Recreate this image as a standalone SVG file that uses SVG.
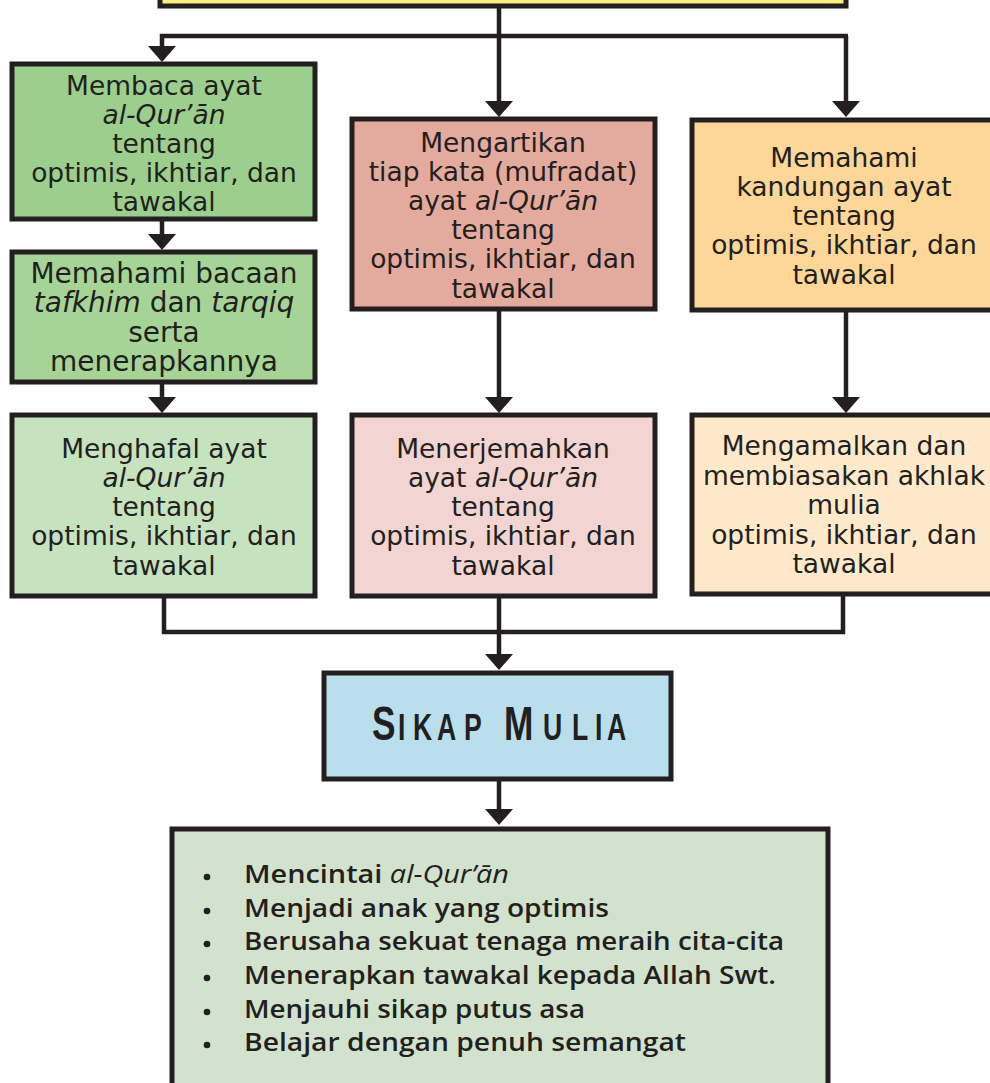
<svg xmlns="http://www.w3.org/2000/svg" width="990" height="1083" viewBox="0 0 990 1083">
  <style>
    .box { stroke: #231f20; stroke-width: 5; }
    .wire { fill: none; stroke: #231f20; stroke-width: 4.5; }
    .lbl { font-family: "DejaVu Sans", "Liberation Sans", sans-serif; font-size: 26.5px; fill: #231f20; text-anchor: middle; }
    .big { font-size: 28px; }
    .it { font-style: italic; }
    .list { font-family: "Open Sans", "Liberation Sans", sans-serif; font-weight: 600; font-size: 26px; fill: #231f20; }
    .title { font-family: "Liberation Sans", Arial, sans-serif; font-weight: bold; fill: #231f20; }
  </style>
  <defs>
    <marker id="arrow" viewBox="0 0 16 28" refX="6" refY="14" markerWidth="16" markerHeight="28" markerUnits="userSpaceOnUse" orient="auto">
      <path d="M0,0 L16,14 L0,28 Z" fill="#231f20"/>
    </marker>
  </defs>
  <rect width="990" height="1083" fill="#ffffff"/>

  <!-- connectors -->
  <g id="connectors">
    <path class="wire" d="M499,6 V107" marker-end="url(#arrow)"/>
    <path class="wire" d="M848,36 H162 V52" marker-end="url(#arrow)"/>
    <path class="wire" d="M846,36 V107" marker-end="url(#arrow)"/>
    <path class="wire" d="M162,220 V240" marker-end="url(#arrow)"/>
    <path class="wire" d="M162,382 V403" marker-end="url(#arrow)"/>
    <path class="wire" d="M499,309 V403" marker-end="url(#arrow)"/>
    <path class="wire" d="M846,310 V403" marker-end="url(#arrow)"/>
    <path class="wire" d="M164,594 V632 H843 V594"/>
    <path class="wire" d="M499,596 V660" marker-end="url(#arrow)"/>
    <path class="wire" d="M499,780 V815" marker-end="url(#arrow)"/>
  </g>

  <!-- top banner (cropped) -->
  <g id="top">
    <rect class="box" x="160" y="-20" width="686" height="26" fill="#fcef7a"/>
  </g>

  <g id="membaca">
    <rect class="box" x="12" y="64" width="303" height="155" fill="#9ccf8d"/>
    <text class="lbl" x="164" y="95">Membaca ayat</text>
    <text class="lbl it" x="164" y="124">al-Qur’ān</text>
    <text class="lbl" x="164" y="153">tentang</text>
    <text class="lbl" x="164" y="182">optimis, ikhtiar, dan</text>
    <text class="lbl" x="164" y="211">tawakal</text>
  </g>

  <g id="tafkhim">
    <rect class="box" x="12" y="252" width="303" height="130" fill="#a6d497"/>
    <text class="lbl big" x="164" y="283">Memahami bacaan</text>
    <text class="lbl big" x="164" y="312"><tspan class="it">tafkhim</tspan> dan <tspan class="it">tarqiq</tspan></text>
    <text class="lbl big" x="164" y="342">serta</text>
    <text class="lbl big" x="164" y="371">menerapkannya</text>
  </g>

  <g id="menghafal">
    <rect class="box" x="12" y="415" width="303" height="181" fill="#c6e3bf"/>
    <text class="lbl" x="164" y="458">Menghafal ayat</text>
    <text class="lbl it" x="164" y="487">al-Qur’ān</text>
    <text class="lbl" x="164" y="516">tentang</text>
    <text class="lbl" x="164" y="545">optimis, ikhtiar, dan</text>
    <text class="lbl" x="164" y="575">tawakal</text>
  </g>

  <g id="mengartikan">
    <rect class="box" x="352" y="119" width="303" height="190" fill="#e5aa9e"/>
    <text class="lbl" x="503" y="152">Mengartikan</text>
    <text class="lbl" x="503" y="181">tiap kata (mufradat)</text>
    <text class="lbl" x="503" y="210">ayat <tspan class="it">al-Qur’ān</tspan></text>
    <text class="lbl" x="503" y="239">tentang</text>
    <text class="lbl" x="503" y="268">optimis, ikhtiar, dan</text>
    <text class="lbl" x="503" y="298">tawakal</text>
  </g>

  <g id="menerjemahkan">
    <rect class="box" x="352" y="415" width="303" height="181" fill="#f2d5d0"/>
    <text class="lbl" x="503" y="458">Menerjemahkan</text>
    <text class="lbl" x="503" y="487">ayat <tspan class="it">al-Qur’ān</tspan></text>
    <text class="lbl" x="503" y="516">tentang</text>
    <text class="lbl" x="503" y="545">optimis, ikhtiar, dan</text>
    <text class="lbl" x="503" y="575">tawakal</text>
  </g>

  <g id="kandungan">
    <rect class="box" x="692" y="120" width="310" height="190" fill="#fdd797"/>
    <text class="lbl" x="844" y="167">Memahami</text>
    <text class="lbl" x="844" y="196">kandungan ayat</text>
    <text class="lbl" x="844" y="225">tentang</text>
    <text class="lbl" x="844" y="254">optimis, ikhtiar, dan</text>
    <text class="lbl" x="844" y="284">tawakal</text>
  </g>

  <g id="mengamalkan">
    <rect class="box" x="692" y="415" width="310" height="179" fill="#feeacb"/>
    <text class="lbl" x="844" y="455">Mengamalkan dan</text>
    <text class="lbl" x="844" y="485">membiasakan akhlak</text>
    <text class="lbl" x="844" y="514">mulia</text>
    <text class="lbl" x="844" y="544">optimis, ikhtiar, dan</text>
    <text class="lbl" x="844" y="573">tawakal</text>
  </g>

  <g id="sikap-mulia">
    <rect class="box" x="324" y="673" width="347" height="106" fill="#b8dfeb"/>
    <g transform="scale(0.72 1)">
      <text class="title" y="740" font-size="37"><tspan x="516.7" font-size="49">S</tspan><tspan x="552.8">I</tspan><tspan x="573.6">K</tspan><tspan x="606.9">A</tspan><tspan x="644.4">P</tspan><tspan x="700" font-size="49">M</tspan><tspan x="754.2">U</tspan><tspan x="794.4">L</tspan><tspan x="826.4">I</tspan><tspan x="843">A</tspan></text>
    </g>
  </g>

  <g id="sikap-list">
    <rect class="box" x="172" y="829" width="656" height="260" fill="#d2e3cd"/>
    <g fill="#231f20">
      <circle cx="207" cy="877" r="3.3"/>
      <circle cx="207" cy="911" r="3.3"/>
      <circle cx="207" cy="944" r="3.3"/>
      <circle cx="207" cy="978" r="3.3"/>
      <circle cx="207" cy="1012" r="3.3"/>
      <circle cx="207" cy="1045" r="3.3"/>
    </g>
    <text class="list" x="244" y="883" textLength="265" lengthAdjust="spacingAndGlyphs">Mencintai <tspan class="it" font-weight="400">al-Qur’ān</tspan></text>
    <text class="list" x="244" y="917" textLength="365" lengthAdjust="spacingAndGlyphs">Menjadi anak yang optimis</text>
    <text class="list" x="244" y="950" textLength="540" lengthAdjust="spacingAndGlyphs">Berusaha sekuat tenaga meraih cita-cita</text>
    <text class="list" x="244" y="984" textLength="532" lengthAdjust="spacingAndGlyphs">Menerapkan tawakal kepada Allah Swt.</text>
    <text class="list" x="244" y="1018" textLength="341" lengthAdjust="spacingAndGlyphs">Menjauhi sikap putus asa</text>
    <text class="list" x="244" y="1051" textLength="442" lengthAdjust="spacingAndGlyphs">Belajar dengan penuh semangat</text>
  </g>
</svg>
